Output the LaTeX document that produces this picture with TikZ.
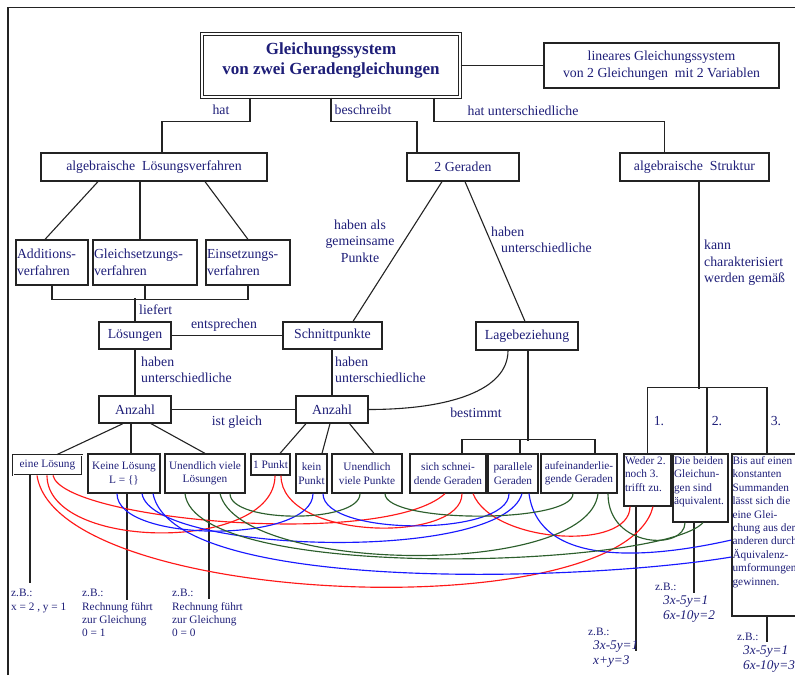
\documentclass[tikz,border=0pt]{standalone}
\usepackage{fontspec}
\setmainfont{Liberation Serif}
\definecolor{navy}{RGB}{30,30,120}
\definecolor{lnc}{RGB}{35,35,35}
\definecolor{cred}{RGB}{255,25,25}
\definecolor{cblue}{RGB}{25,25,255}
\definecolor{cgreen}{RGB}{45,95,45}
\newcommand{\szA}{\fontsize{13.8}{16.5}\selectfont}
\newcommand{\szB}{\fontsize{11.3}{13.4}\selectfont}
\newcommand{\szT}{\fontsize{17}{20}\selectfont\bfseries}
\newcommand{\szI}{\fontsize{13.3}{15}\selectfont\itshape}
\tikzset{
  bx/.style={draw=lnc, line width=1.25pt, text=navy, inner sep=1pt, align=center, font=\szA},
  sbx/.style={draw=lnc, line width=1.25pt, text=navy, inner sep=1pt, align=center, font=\szB},
  ebx/.style={draw=lnc, line width=1.25pt, inner sep=0pt},
  lbl/.style={text=navy, inner sep=0pt, font=\szA},
  slbl/.style={text=navy, inner sep=0pt, font=\szB, align=left},
  ilbl/.style={text=navy, inner sep=0pt, font=\szI, align=left},
  ln/.style={draw=lnc, line width=1.1pt},
  cv/.style={line width=1.15pt},
}
\begin{document}
\begin{tikzpicture}[x=1pt,y=-1pt]
\useasboundingbox (0,0) rectangle (795,675);
\clip (0,0) rectangle (795,675);
% frame
\draw[line width=1.2pt, color=lnc] (8,675) -- (8,7.5) -- (795,7.5);

% title
\node[draw=lnc, line width=1.1pt, double=white, double distance=2pt, minimum width=258pt, minimum height=63pt, inner sep=0pt] (title) at (331,65.5) {};
\node[lbl, font=\szT, align=center] (titletext) at (331,60.5) {Gleichungssystem\\von zwei Geradengleichungen};
\node[bx, minimum width=235pt, minimum height=45pt] (lin) at (661.5,65.5) {lineares Gleichungssystem\\von 2 Gleichungen\ \ mit 2 Variablen};
\draw[ln] (title.east) -- (lin.west);

% second level
\node[bx, minimum width=226pt, minimum height=28pt] (alg) at (154,167) {algebraische\ \ Lösungsverfahren};
\node[bx, minimum width=112pt, minimum height=28pt] (zwei) at (463,167) {2 Geraden};
\node[bx, minimum width=149pt, minimum height=28pt] (algS) at (694.5,167) {algebraische\ \ Struktur};

\draw[ln] ([xshift=-81pt]title.south) -- ++(0,24) -| ([xshift=8pt]alg.north);
\draw[ln] (title.south) -- ++(0,24) -| ([xshift=-46pt]zwei.north);
\draw[ln] ([xshift=103pt]title.south) -- ++(0,24) -| ([xshift=-30pt]algS.north);
\node[lbl] (lhat) at (221,110) {hat};
\node[lbl] (lbes) at (363,110) {beschreibt};
\node[lbl] (lhu) at (523,111) {hat unterschiedliche};

% Verfahren
\node[bx, minimum width=72pt, minimum height=45pt, text width=70pt, align=left] (add) at (52,262.5) {Additions-\\verfahren};
\node[bx, minimum width=104pt, minimum height=45pt, text width=102pt, align=left] (gleich) at (145,262.5) {Gleichsetzungs-\\verfahren};
\node[bx, minimum width=84pt, minimum height=45pt, text width=82pt, align=left] (eins) at (248,262.5) {Einsetzungs-\\verfahren};
\draw[ln] ([xshift=-56pt]alg.south) -- ([xshift=-7pt]add.north);
\draw[ln] ([xshift=-14pt]alg.south) -- ([xshift=-5pt]gleich.north);
\draw[ln] ([xshift=51pt]alg.south) -- (eins.north);

\node[bx, minimum width=72pt, minimum height=27pt] (loes) at (135,335.5) {Lösungen};
\node[bx, minimum width=99pt, minimum height=27pt] (schnitt) at (332.5,335.5) {Schnittpunkte};
\node[bx, minimum width=102pt, minimum height=28pt] (lage) at (527,336) {Lagebeziehung};

\draw[ln] (add.south) -- ++(0,14) -| (eins.south);
\draw[ln] (gleich.south) -- ++(0,14);
\draw[ln] (loes.north) -- ++(0,-23);
\node[lbl, anchor=west] (llief) at (139,310) {liefert};

\draw[ln] (loes.east) -- (schnitt.west);
\node[lbl] (lent) at (224,325) {entsprechen};

\draw[ln] ([xshift=-21pt]zwei.south) -- ([xshift=20.5pt]schnitt.north);
\node[lbl, align=center] (lgem) at (360,241) {haben als\\gemeinsame\\Punkte};
\draw[ln] ([xshift=2pt]zwei.south) -- ([xshift=-2pt]lage.north);
\node[lbl, anchor=west, align=left] (lhab) at (491,240) {haben\\\hspace*{10pt}unterschiedliche};

% Anzahl
\node[bx, minimum width=72pt, minimum height=27pt] (anzL) at (135,409.5) {Anzahl};
\node[bx, minimum width=72pt, minimum height=27pt] (anzR) at (332,409.5) {Anzahl};
\draw[ln] (loes.south) -- (anzL.north);
\draw[ln] ([xshift=-0.5pt]schnitt.south) -- (anzR.north);
\node[lbl, anchor=west, align=left] (lhu1) at (141,370) {haben\\unterschiedliche};
\node[lbl, anchor=west, align=left] (lhu2) at (335,370) {haben\\unterschiedliche};
\draw[ln] (anzL.east) -- (anzR.west);
\node[lbl] (list) at (237,422) {ist gleich};
\draw[ln] ([xshift=-19pt]lage.south) .. controls +(0,40) and +(80,0) .. (anzR.east);
\node[lbl] (lbest) at (476,413) {bestimmt};

% algebraische Struktur
\node[lbl, anchor=west, align=left] (lkann) at (704,263) {kann\\charakterisiert\\werden gemäß};

% bottom row
\node[sbx, draw=lnc, line width=0.9pt, double=white, double distance=0.7pt, minimum width=69pt, minimum height=20pt] (eine) at (47.5,465) {eine Lösung};
\node[sbx, minimum width=72pt, minimum height=39pt] (keineL) at (124,473.5) {Keine Lösung\\L = \{\}};
\node[sbx, minimum width=80pt, minimum height=39pt] (uvl) at (205,473.5) {Unendlich viele\\Lösungen};
\node[sbx, minimum width=39pt, minimum height=21pt] (p1) at (270.5,464.5) {1 Punkt};
\node[sbx, minimum width=31pt, minimum height=39pt] (kein) at (311.5,473.5) {kein\\Punkt};
\node[sbx, minimum width=70pt, minimum height=39pt] (uvp) at (367,473.5) {Unendlich\\viele Punkte};
\node[sbx, minimum width=76pt, minimum height=39pt] (sich) at (448,473.5) {sich schnei-\\dende Geraden};
\node[sbx, minimum width=50pt, minimum height=39pt] (par) at (513,473.5) {parallele\\Geraden};
\node[sbx, minimum width=76pt, minimum height=39pt] (auf) at (579,473.5) {aufeinanderlie-\\gende Geraden};

\draw[ln] ([xshift=-12pt]anzL.south) -- ([xshift=9.5pt]eine.north);
\draw[ln] ([xshift=-4pt]anzL.south) -- ([xshift=7pt]keineL.north);
\draw[ln] ([xshift=16pt]anzL.south) -- (uvl.north);
\draw[ln] ([xshift=-26pt]anzR.south) -- ([xshift=9.5pt]p1.north);
\draw[ln] ([xshift=-2pt]anzR.south) -- ([xshift=10.5pt]kein.north);
\draw[ln] ([xshift=17.5pt]anzR.south) -- ([xshift=7pt]uvp.north);

\draw[ln] ([xshift=1pt]lage.south) -- ++(0,90);
\draw[ln] ([xshift=14pt]sich.north) -- ++(0,-14) -| ([xshift=16pt]auf.north);
\draw[ln] ([xshift=7pt]par.north) -- ++(0,-14);

% characterisation boxes
\node[ebx, minimum width=47pt, minimum height=52pt] (weder) at (647.5,480) {};
\node[slbl, anchor=north west] (wedertext) at ([xshift=1.5pt,yshift=-3pt]weder.north west) {Weder 2.\\noch 3.\\trifft zu.};
\node[ebx, minimum width=55pt, minimum height=68pt] (die) at (700.5,488) {};
\node[slbl, anchor=north west] (dietext) at ([xshift=1.5pt,yshift=-3pt]die.north west) {Die beiden\\Gleichun-\\gen sind\\äquivalent.};
\node[ebx, minimum width=88pt, minimum height=162pt] (bis) at (776,535) {};
\node[slbl, anchor=north west] (bistext) at ([xshift=1pt,yshift=-3pt]bis.north west) {Bis auf einen\\konstanten\\Summanden\\lässt sich die\\eine Glei-\\chung aus der\\anderen durch\\Äquivalenz-\\umformungen\\gewinnen.};

\draw[ln] ([xshift=4.5pt]algS.south) -- ++(0,207);
\draw[ln] (weder.north) -- ++(0,-66) -| ([xshift=-9pt]bis.north);
\draw[ln] ([xshift=6.5pt]die.north) -- ++(0,-66);
\node[lbl] (l1) at (659,421) {1.};
\node[lbl] (l2) at (717,421) {2.};
\node[lbl] (l3) at (776,421) {3.};

% verticals to examples
\draw[ln] ([xshift=-17.5pt]eine.south) -- ++(0,108);
\draw[ln] ([xshift=3pt]keineL.south) -- ++(0,106);
\draw[ln] ([xshift=4pt]uvl.south) -- ++(0,105);
\draw[ln] ([xshift=-11.5pt]weder.south) -- ++(0,144);
\draw[ln] ([xshift=-6.5pt]die.south) -- ++(0,70);
\draw[ln] ([xshift=-9pt]bis.south) -- ++(0,25);

% examples
\node[slbl, anchor=north west] (zb1) at (11,589) {z.B.:\\x = 2 , y = 1};
\node[slbl, anchor=north west] (zb2) at (82,589) {z.B.:\\Rechnung führt\\zur Gleichung\\0 = 1};
\node[slbl, anchor=north west] (zb3) at (172,589) {z.B.:\\Rechnung führt\\zur Gleichung\\0 = 0};
\node[slbl, anchor=west] (zb4) at (588,632) {z.B.:};
\node[ilbl, anchor=west] (zb4e) at (593,654.5) {3x-5y=1\\x+y=3};
\node[slbl, anchor=west] (zb5) at (655,587) {z.B.:};
\node[ilbl, anchor=west] (zb5e) at (663,609.5) {3x-5y=1\\6x-10y=2};
\node[slbl, anchor=west] (zb6) at (737,637) {z.B.:};
\node[ilbl, anchor=west] (zb6e) at (743,659.5) {3x-5y=1\\6x-10y=3};

% red curves
\draw[cv, cred] ([xshift=-0.5pt]eine.south) .. controls +(0,76) and +(0,77) .. ([xshift=4.5pt]p1.south);
\draw[cv, cred] ([xshift=5.5pt]eine.south) .. controls +(10,45) and +(-60,55) .. ([xshift=-3pt]sich.south);
\draw[cv, cred] ([xshift=-10.5pt]eine.south) .. controls +(20,132) and +(-30,122) .. ([xshift=5.5pt]weder.south);
\draw[cv, cred] ([xshift=10.5pt]p1.south) .. controls +(0,65) and +(0,50) .. ([xshift=14pt]sich.south);
\draw[cv, cred] ([xshift=25pt]sich.south) .. controls +(20,50) and +(0,45) .. ([xshift=-17.5pt]weder.south);
% blue curves
\draw[cv, cblue] ([xshift=-7pt]keineL.south) .. controls +(0,50) and +(0,50) .. ([xshift=1.5pt]kein.south);
\draw[cv, cblue] ([xshift=18pt]keineL.south) .. controls +(10,60) and +(-20,70) .. ([xshift=9pt]par.south);
\draw[cv, cblue] ([xshift=29pt]keineL.south) .. controls +(20,100) and +(-150,25) .. ([yshift=-22pt]bis.west);
\draw[cv, cblue] ([xshift=11.5pt]kein.south) .. controls +(0,43) and +(0,43) .. ([xshift=-4pt]par.south);
\draw[cv, cblue] ([xshift=16pt]par.south) .. controls +(10,75) and +(-80,18) .. ([yshift=-5pt]bis.west);
% green curves
\draw[cv, cgreen] ([xshift=25pt]uvl.south) .. controls +(0,30) and +(0,30) .. ([xshift=-7pt]uvp.south);
\draw[cv, cgreen] ([xshift=18pt]uvp.south) .. controls +(0,30) and +(0,30) .. ([xshift=-6pt]auf.south);
\draw[cv, cgreen] ([xshift=15pt]uvl.south) .. controls +(20,80) and +(-10,85) .. ([xshift=19pt]auf.south);
\draw[cv, cgreen] ([xshift=-20pt]uvl.south) .. controls +(10,90) and +(-40,45) .. ([xshift=2.5pt]die.south);
\draw[cv, cgreen] ([xshift=29pt]auf.south) .. controls +(0,55) and +(0,28) .. ([xshift=-15.5pt]die.south);
\end{tikzpicture}
\end{document}
